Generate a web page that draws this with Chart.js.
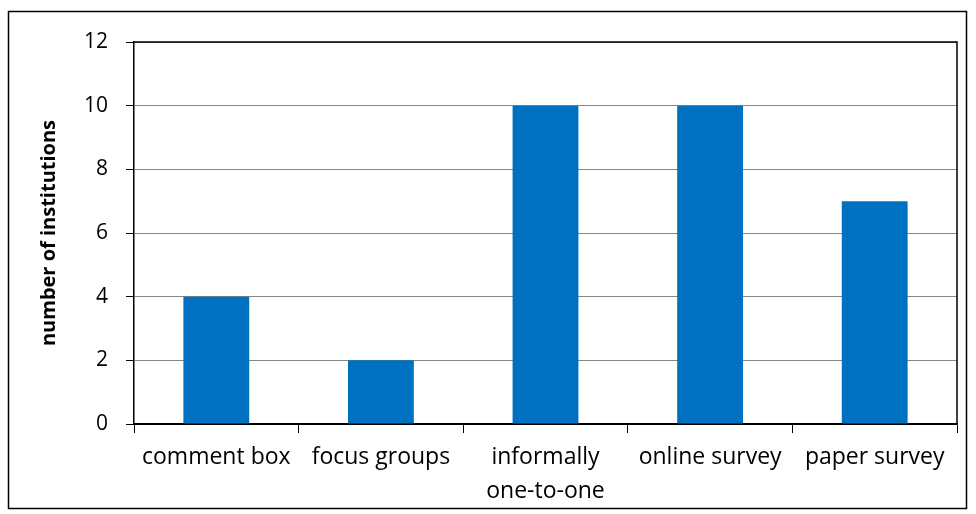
<!DOCTYPE html>
<html>
<head>
<meta charset="utf-8">
<script src="https://cdn.jsdelivr.net/npm/chart.js@4/dist/chart.umd.min.js"></script>
<style>
  html, body { margin: 0; padding: 0; background: #fff; }
  #wrap { width: 976px; height: 514px; }
</style>
</head>
<body>
<div id="wrap"><canvas id="chart" width="976" height="514"></canvas></div>
<script>
const categories = ["comment box", "focus groups", ["informally", "one-to-one"], "online survey", "paper survey"];
const institutions = [4, 2, 10, 10, 7];
const yTicks = [0, 2, 4, 6, 8, 10, 12];

const fontName = "'Open Sans', sans-serif";

// frame around the whole picture + black border on the plot area
const frames = {
  id: "frames",
  afterDraw: (chart) => {
    const c = chart.ctx;
    const a = chart.chartArea;
    c.save();
    c.strokeStyle = "#000";
    c.lineWidth = 1.5;
    c.strokeRect(8.5, 11.5, 958, 497);
    c.beginPath();
    c.moveTo(a.left, a.top);
    c.lineTo(a.right, a.top);
    c.lineTo(a.right, a.bottom);
    c.stroke();
    c.restore();
  },
};

const ctx = document.querySelector("#chart").getContext("2d");

const chart = new Chart(ctx, {
  type: "bar",
  data: {
    labels: categories,
    datasets: [
      {
        data: institutions,
        backgroundColor: "#0070C0",
        barPercentage: 0.4,
        categoryPercentage: 1,
      },
    ],
  },
  options: {
    responsive: false,
    animation: false,
    events: [],
    layout: { padding: { top: 42, right: 19, left: 10, bottom: 10 } },
    plugins: {
      legend: { display: false },
      tooltip: { enabled: false },
    },
    scales: {
      y: {
        min: 0,
        max: 12,
        afterFit: (scale) => { scale.width = 124; },
        afterBuildTicks: (scale) => { scale.ticks = yTicks.map((v) => ({ value: v })); },
        ticks: {
          color: "#000",
          padding: 18,
          font: { family: fontName, size: 21 },
        },
        grid: {
          color: (c) => (c.tick && c.tick.value === 0 ? "#000" : "#868686"),
          tickColor: "#000",
          tickLength: 8,
        },
        border: { color: "#000", width: 1.5 },
        title: {
          display: true,
          text: "number of institutions",
          color: "#000",
          padding: { top: 27, bottom: 0 },
          font: { family: fontName, size: 20, weight: "bold" },
        },
      },
      x: {
        afterFit: (scale) => { scale.height = 80; },
        ticks: {
          color: "#000",
          padding: 8,
          maxRotation: 0,
          autoSkip: false,
          font: { family: fontName, size: 23, lineHeight: 1.45 },
        },
        grid: {
          offset: true,
          drawOnChartArea: false,
          tickColor: "#000",
          tickLength: 9,
        },
        border: { color: "#000", width: 1.5 },
      },
    },
  },
  plugins: [frames],
});
</script>
</body>
</html>
